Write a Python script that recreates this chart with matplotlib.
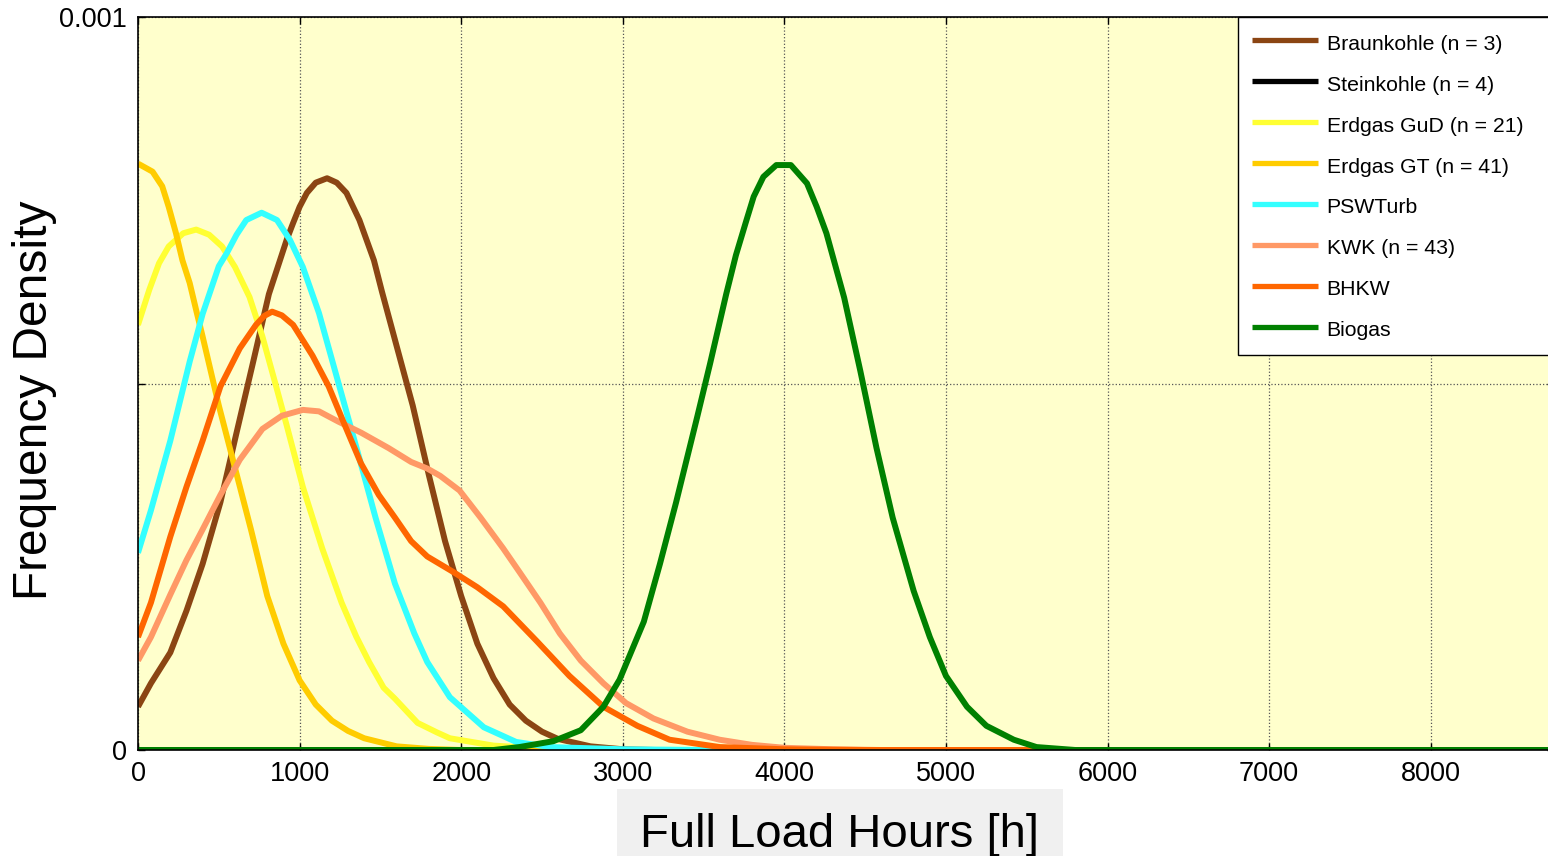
import matplotlib
matplotlib.use("Agg")
import matplotlib.pyplot as plt
import numpy as np

plt.rcParams['font.family'] = ['Liberation Sans', 'DejaVu Sans']

SCALE = 1e-4  # densities below are read in units of 1e-4 per hour

labels = ["Braunkohle (n = 3)", "Steinkohle (n = 4)", "Erdgas GuD (n = 21)",
          "Erdgas GT (n = 41)", "PSWTurb", "KWK (n = 43)", "BHKW", "Biogas"]
colors = ["#8B4513", "#000000", "#FFFF33", "#FFCC00", "#33FFFF", "#FF9966",
          "#FF6600", "#008000"]

h_braun = [0, 80, 200, 300, 400, 510, 610, 710, 810, 920, 960, 1000, 1045, 1100, 1170,
           1230, 1290, 1370, 1460, 1510, 1630, 1700, 1800, 1900, 2000, 2100, 2200, 2300,
           2400, 2500, 2600, 2800, 3000, 3200, 8760]
d_braun = [0.59, 0.91, 1.33, 1.9, 2.54, 3.38, 4.33, 5.27, 6.22, 6.96, 7.19, 7.41, 7.6,
           7.74, 7.8, 7.74, 7.6, 7.23, 6.68, 6.25, 5.27, 4.7, 3.75, 2.85, 2.1, 1.45,
           0.98, 0.62, 0.4, 0.25, 0.15, 0.05, 0.01, 0.0, 0.0]

h_stein = [0, 8760]
d_stein = [0.0, 0.0]

h_gud = [0, 70, 130, 190, 280, 360, 440, 520, 600, 690, 770, 850, 920, 1020, 1140, 1260,
         1350, 1430, 1520, 1590, 1730, 1850, 1930, 2200, 2500, 2800, 8760]
d_gud = [5.8, 6.28, 6.64, 6.87, 7.05, 7.1, 7.03, 6.87, 6.59, 6.18, 5.64, 5.0, 4.43, 3.59,
         2.75, 2.01, 1.55, 1.2, 0.85, 0.7, 0.37, 0.24, 0.16, 0.06, 0.02, 0.0, 0.0]

h_gt = [0, 90, 150, 190, 235, 275, 320, 360, 400, 500, 600, 700, 800, 900, 1000, 1100,
        1200, 1300, 1400, 1600, 1800, 2000, 8760]
d_gt = [8.0, 7.89, 7.69, 7.41, 7.05, 6.68, 6.37, 6.0, 5.64, 4.7, 3.85, 3.0, 2.1, 1.45,
        0.95, 0.62, 0.4, 0.26, 0.16, 0.05, 0.015, 0.0, 0.0]

h_psw = [0, 80, 200, 320, 400, 500, 550, 610, 670, 765, 860, 940, 1020, 1120, 1240, 1360,
         1470, 1590, 1710, 1790, 1930, 2140, 2340, 2550, 3000, 3500, 8760]
d_psw = [2.69, 3.27, 4.22, 5.3, 5.95, 6.6, 6.78, 7.03, 7.23, 7.33, 7.23, 6.96, 6.59,
         5.96, 5.01, 4.06, 3.17, 2.27, 1.59, 1.2, 0.72, 0.31, 0.11, 0.04, 0.01, 0.0, 0.0]

h_kwk = [0, 80, 200, 300, 400, 510, 630, 770, 890, 1020, 1120, 1240, 1380, 1550, 1690,
         1790, 1870, 1990, 2120, 2260, 2360, 2490, 2610, 2740, 2880, 3020, 3190, 3400,
         3600, 3800, 4000, 4300, 4600, 8760]
d_kwk = [1.22, 1.54, 2.12, 2.59, 3.01, 3.48, 3.96, 4.38, 4.56, 4.64, 4.62, 4.48, 4.33,
         4.12, 3.93, 3.84, 3.74, 3.54, 3.17, 2.75, 2.43, 2.01, 1.59, 1.22, 0.91, 0.64,
         0.43, 0.25, 0.14, 0.07, 0.03, 0.01, 0.0, 0.0]

h_bhkw = [0, 80, 200, 300, 400, 510, 630, 730, 780, 830, 890, 960, 1080, 1180, 1280, 1380,
          1490, 1590, 1690, 1790, 1950, 2100, 2260, 2470, 2670, 2880, 3090, 3290, 3600,
          4000, 4500, 8760]
d_bhkw = [1.54, 2.01, 2.91, 3.59, 4.22, 4.96, 5.48, 5.8, 5.92, 5.98, 5.93, 5.8, 5.38,
          4.96, 4.43, 3.91, 3.48, 3.17, 2.85, 2.64, 2.43, 2.22, 1.96, 1.48, 1.01, 0.59,
          0.33, 0.14, 0.04, 0.01, 0.0, 0.0]

h_bio = [0, 2200, 2360, 2570, 2740, 2880, 2980, 3130, 3230, 3330, 3460, 3540, 3640, 3700,
         3760, 3810, 3870, 3950, 4040, 4140, 4200, 4260, 4370, 4470, 4570, 4670, 4800,
         4900, 5000, 5130, 5250, 5420, 5560, 5800, 8760]
d_bio = [0.0, 0.0, 0.04, 0.12, 0.27, 0.59, 0.96, 1.75, 2.54, 3.38, 4.54, 5.27, 6.22,
         6.75, 7.19, 7.55, 7.82, 7.98, 7.98, 7.73, 7.41, 7.05, 6.17, 5.17, 4.12, 3.17,
         2.17, 1.54, 1.01, 0.59, 0.33, 0.14, 0.04, 0.0, 0.0]

series = [(h_braun, d_braun), (h_stein, d_stein), (h_gud, d_gud), (h_gt, d_gt),
          (h_psw, d_psw), (h_kwk, d_kwk), (h_bhkw, d_bhkw), (h_bio, d_bio)]

xticks = [0, 1000, 2000, 3000, 4000, 5000, 6000, 7000, 8000]
yticks = [0, 0.0005, 0.001]
ytick_labels = ["0", "", "0.001"]

W, H = 1548, 856
fig = plt.figure(figsize=(W / 100, H / 100), dpi=100)
ax = fig.add_axes([138 / W, (H - 750) / H, 1415.6 / W, 733 / H])
ax.set_facecolor("#FFFFCC")

for (hh, dd), lab, col in zip(series, labels, colors):
    ax.plot(hh, np.array(dd) * SCALE, color=col, lw=4.3, label=lab,
            solid_joinstyle='round', solid_capstyle='butt')

ax.set_xlim(0, 8760)
ax.set_ylim(0, 0.001)
ax.set_xticks(xticks)
ax.set_xticklabels([str(t) for t in xticks])
ax.set_yticks(yticks)
ax.set_yticklabels(ytick_labels)
ax.tick_params(direction='in', length=5, width=1, labelsize=19.5, top=True, right=True,
               pad=8)
ax.grid(True, color="#555555", linestyle=':', linewidth=0.9)
for s in ax.spines.values():
    s.set_linewidth(1.2)

fig.text(35 / W, (H - 400) / H, "Frequency Density", fontsize=34.5, rotation=90,
         ha='center', va='center')

fig.text(840 / W, 9 / H, "Full Load Hours [h]", fontsize=34, ha='center', va='baseline',
         bbox=dict(facecolor="#F0F0F0", edgecolor='none', pad=17))

leg = ax.legend(loc='upper left', bbox_to_anchor=(1238 / W, 0.4, 0.3, (H - 17) / H - 0.4),
                bbox_transform=fig.transFigure, mode='expand', fontsize=15.3,
                frameon=True, fancybox=False, edgecolor='black', framealpha=1,
                borderaxespad=0, borderpad=0.65, labelspacing=0.81, handlelength=3.1,
                handleheight=1.34, handletextpad=0.42)
leg.get_frame().set_linewidth(1.0)
for ln in leg.get_lines():
    ln.set_linewidth(3.8)

fig.savefig("out.png", dpi=100)
